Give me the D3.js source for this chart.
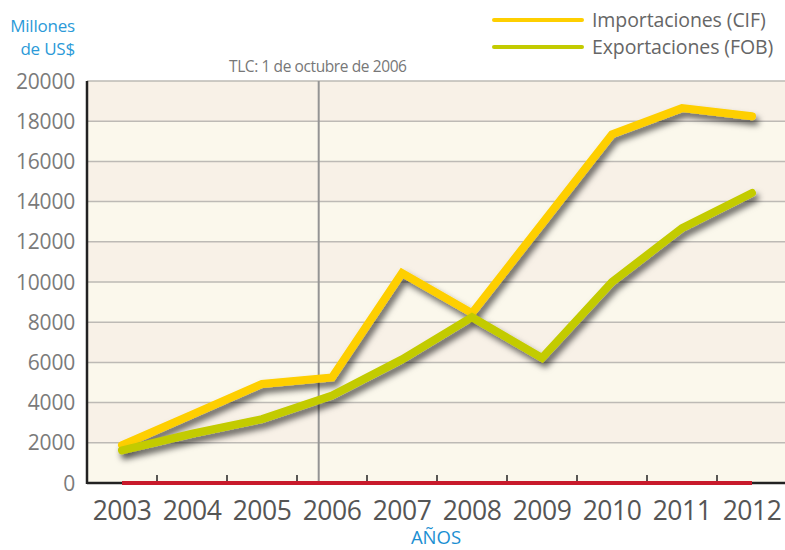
<!DOCTYPE html>
<html><head><meta charset="utf-8">
<script src="https://cdn.jsdelivr.net/npm/d3@7/dist/d3.min.js"></script>
<style>body{margin:0;background:#fff}svg{display:block}</style>
</head><body><svg id="c" width="785" height="550"></svg>
<script>
const years = ["2003","2004","2005","2006","2007","2008","2009","2010","2011","2012"];
const importaciones = [1880, 3400, 4930, 5250, 10450, 8450, 12900, 17350, 18650, 18250];
const exportaciones = [1620, 2450, 3180, 4350, 6150, 8250, 6220, 10000, 12680, 14430];
const yTicks = [0,2000,4000,6000,8000,10000,12000,14000,16000,18000,20000];
const tlcYear = 2005.81;
const seriesNames = ["Importaciones (CIF)", "Exportaciones (FOB)"];
const colors = ["#fecf00", "#c3cb00"];

const svg = d3.select("#c");
const L = 87, R = 787, T = 81, B = 483;
const x = d3.scaleBand().domain(years).range([L, R]).padding(0);
const xl = d3.scaleLinear().domain([2003, 2012]).range([x("2003")+x.bandwidth()/2, x("2012")+x.bandwidth()/2]);
const y = d3.scaleLinear().domain([0, 20000]).range([B, T]);

const defs = svg.append("defs");
const f = defs.append("filter").attr("id","sh").attr("x","-10%").attr("y","-10%").attr("width","120%").attr("height","130%");
f.append("feDropShadow").attr("dx",3).attr("dy",5).attr("stdDeviation",3).attr("flood-color","#000").attr("flood-opacity",0.6);

// bands
const bands = d3.pairs(yTicks);
svg.append("g").selectAll("rect").data(bands).join("rect")
  .attr("x", L).attr("width", 785-L)
  .attr("y", d => y(d[1])).attr("height", d => y(d[0]) - y(d[1]))
  .attr("fill", (d,i) => i % 2 === 0 ? "#fbf8ec" : "#f8f1e7");

// gridlines
svg.append("g").selectAll("line").data(yTicks.slice(1)).join("line")
  .attr("x1", L).attr("x2", 785).attr("y1", d => y(d)).attr("y2", d => y(d))
  .attr("stroke", "#bdbab5").attr("stroke-width", 1.5);

// y labels
svg.append("g").selectAll("text").data(yTicks).join("text")
  .attr("x", 75).attr("y", d => y(d)).attr("dy", "0.36em")
  .attr("text-anchor", "end").attr("fill", "#7a7a7a")
  .style("font", "21px 'Open Sans', sans-serif").style("letter-spacing","-0.2px")
  .text(d => d);

// TLC line
svg.append("line").attr("x1", xl(tlcYear)).attr("x2", xl(tlcYear)).attr("y1", T).attr("y2", B)
  .attr("stroke", "#949494").attr("stroke-width", 2);
svg.append("text").attr("x", 229).attr("y", 72).attr("fill", "#777")
  .style("font", "15.5px 'Open Sans', sans-serif").style("letter-spacing","-0.4px")
  .text("TLC: 1 de octubre de 2006");

// axes
svg.append("line").attr("x1", L).attr("x2", L).attr("y1", T).attr("y2", B+1)
  .attr("stroke", "#222").attr("stroke-width", 2.5);
svg.append("line").attr("x1", L).attr("x2", 785).attr("y1", B).attr("y2", B)
  .attr("stroke", "#222").attr("stroke-width", 2.5);
const ticksX = years.slice(1);
svg.append("g").selectAll("line").data(ticksX).join("line")
  .attr("x1", d => x(d)).attr("x2", d => x(d)).attr("y1", B-8).attr("y2", B)
  .attr("stroke", "#222").attr("stroke-width", 1.5);
svg.append("line").attr("x1", xl(2003)).attr("x2", xl(2012)).attr("y1", B).attr("y2", B)
  .attr("stroke", "#c8192b").attr("stroke-width", 4);

// x labels
svg.append("g").selectAll("text").data(years).join("text")
  .attr("x", d => x(d) + x.bandwidth()/2).attr("y", 520)
  .attr("text-anchor", "middle").attr("fill", "#555")
  .style("font", "26.5px 'Open Sans', sans-serif").style("letter-spacing","-0.5px")
  .text(d => d);
svg.append("text").attr("x", 436).attr("y", 544).attr("text-anchor","middle")
  .attr("fill", "#1b8fd2").style("font", "18.5px 'Open Sans', sans-serif").text("AÑOS");

// y title
svg.append("text").attr("x", 75).attr("y", 32).attr("text-anchor","end")
  .attr("fill", "#2b9ad8").style("font", "17px 'Open Sans', sans-serif").style("letter-spacing","-0.2px").text("Millones");
svg.append("text").attr("x", 75).attr("y", 55).attr("text-anchor","end")
  .attr("fill", "#2b9ad8").style("font", "17px 'Open Sans', sans-serif").style("letter-spacing","-0.2px").text("de US$");

// lines
const line = d3.line().x((d,i) => xl(2003 + i)).y(d => y(d));
const data = [importaciones, exportaciones];
svg.append("g").selectAll("path").data(data).join("path")
  .attr("d", line).attr("fill", "none")
  .attr("stroke", (d,i) => colors[i]).attr("stroke-width", 8)
  .attr("stroke-linecap", "round").attr("stroke-linejoin", "miter")
  .attr("filter", "url(#sh)");

// legend
const lg = svg.append("g");
seriesNames.forEach((n, i) => {
  const yy = 20 + i * 27;
  lg.append("line").attr("x1", 494).attr("x2", 582).attr("y1", yy).attr("y2", yy)
    .attr("stroke", colors[i]).attr("stroke-width", 4).attr("stroke-linecap","round");
  lg.append("text").attr("x", 592).attr("y", yy).attr("dy","0.36em").attr("fill", "#666")
    .style("font", "19.5px 'Open Sans', sans-serif").style("letter-spacing","-0.1px").text(n);
});
</script></body></html>
